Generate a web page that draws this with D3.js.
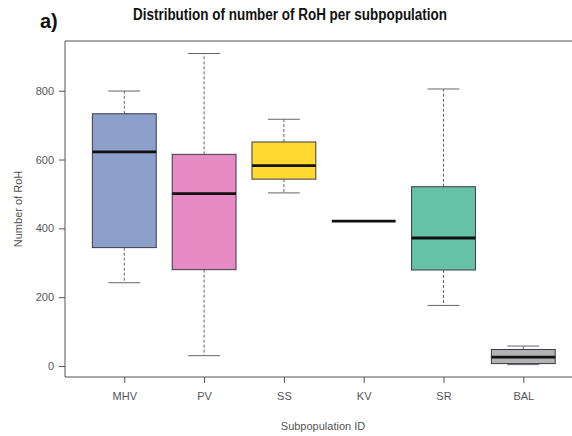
<!DOCTYPE html>
<html>
<head>
<meta charset="utf-8">
<script src="https://cdn.jsdelivr.net/npm/d3@7"></script>
<style>
  body { margin: 0; background: #fff; overflow: hidden; }
  svg { display: block; }
</style>
</head>
<body>
<div id="chart"></div>
<script>
// data
const groups = ['MHV', 'PV', 'SS', 'KV', 'SR', 'BAL'];
const mins    = [242, 30, 503, 421, 176, 4];
const q1s     = [344, 280, 543, 421, 279, 7];
const medians = [622, 501, 582, 421, 372, 26];
const q3s     = [733, 615, 651, 421, 521, 48];
const maxs    = [799, 908, 717, 421, 805, 58];
const fills   = ['#8DA0CB', '#E78AC3', '#FFD92F', '#A6D854', '#66C2A5', '#B3B3B3'];
const yTicks  = [0, 200, 400, 600, 800];

const width = 572, height = 436;
const margin = { top: 41, right: 0, bottom: 59, left: 65 };

const svg = d3.select('#chart').append('svg')
  .attr('width', width)
  .attr('height', height);

const x = d3.scalePoint()
  .domain(groups)
  .range([124.3, 523.3]);

const y = d3.scaleLinear()
  .domain([0, 800])
  .range([366, 90.7]);

const step = x.step();
const boxW = step * 0.8;
const capW = boxW / 2;

// frame: top, left and bottom only (right side is cut off in the original)
const bottomY = height - margin.bottom;
svg.append('path')
  .attr('d', `M${width},${margin.top}H${margin.left}V${bottomY}H${width}`)
  .attr('fill', 'none')
  .attr('stroke', '#555')
  .attr('stroke-width', 1);

// axes
const yAxis = svg.append('g')
  .attr('transform', `translate(${margin.left},0)`)
  .call(d3.axisLeft(y).tickValues(yTicks).tickSize(6).tickPadding(5));
yAxis.select('.domain').remove();

const xAxis = svg.append('g')
  .attr('transform', `translate(0,${bottomY})`)
  .call(d3.axisBottom(x).tickSize(6).tickPadding(9));
xAxis.select('.domain').remove();

svg.selectAll('.tick line').attr('stroke', '#555');
svg.selectAll('.tick text')
  .style('fill', '#555')
  .style('font-family', '"Liberation Sans", Arial, sans-serif')
  .style('font-size', '11px');

const data = groups.map((g, i) => ({
  g, min: mins[i], q1: q1s[i], med: medians[i], q3: q3s[i], max: maxs[i], fill: fills[i]
}));

const box = svg.append('g').selectAll('g')
  .data(data)
  .join('g')
  .attr('transform', d => `translate(${x(d.g)},0)`);

// whiskers
box.filter(d => d.max > d.q3).append('line')
  .attr('y1', d => y(d.q3)).attr('y2', d => y(d.max))
  .attr('stroke', '#666').attr('stroke-dasharray', '3,2');
box.filter(d => d.min < d.q1).append('line')
  .attr('y1', d => y(d.q1)).attr('y2', d => y(d.min))
  .attr('stroke', '#666').attr('stroke-dasharray', '3,2');

// caps
box.filter(d => d.max > d.med).append('line')
  .attr('x1', -capW / 2).attr('x2', capW / 2)
  .attr('y1', d => y(d.max)).attr('y2', d => y(d.max))
  .attr('stroke', '#666').attr('stroke-width', 1);
box.filter(d => d.min < d.med).append('line')
  .attr('x1', -capW / 2).attr('x2', capW / 2)
  .attr('y1', d => y(d.min)).attr('y2', d => y(d.min))
  .attr('stroke', '#666').attr('stroke-width', 1);

// boxes
box.filter(d => d.q3 > d.q1).append('rect')
  .attr('x', -boxW / 2)
  .attr('width', boxW)
  .attr('y', d => y(d.q3))
  .attr('height', d => y(d.q1) - y(d.q3))
  .attr('fill', d => d.fill)
  .attr('stroke', '#3a3a48')
  .attr('stroke-width', 1);

// medians
box.append('line')
  .attr('x1', -boxW / 2).attr('x2', boxW / 2)
  .attr('y1', d => y(d.med)).attr('y2', d => y(d.med))
  .attr('stroke', '#111')
  .attr('stroke-width', 2.8);

// axis titles
svg.append('text')
  .attr('x', 323)
  .attr('y', 430)
  .attr('text-anchor', 'middle')
  .style('font-family', '"Liberation Sans", Arial, sans-serif')
  .style('font-size', '11px')
  .style('fill', '#555')
  .text('Subpopulation ID');

svg.append('text')
  .attr('transform', `translate(22,209) rotate(-90)`)
  .attr('text-anchor', 'middle')
  .style('font-family', '"Liberation Sans", Arial, sans-serif')
  .style('font-size', '11px')
  .style('fill', '#555')
  .text('Number of RoH');

// title (condensed look)
svg.append('text')
  .attr('x', 290)
  .attr('y', 20)
  .attr('text-anchor', 'middle')
  .attr('textLength', 314)
  .attr('lengthAdjust', 'spacingAndGlyphs')
  .style('font-family', '"Liberation Sans", Arial, sans-serif')
  .style('font-weight', 'bold')
  .style('font-size', '16px')
  .style('fill', '#111')
  .text('Distribution of number of RoH per subpopulation');

svg.append('text')
  .attr('x', 40)
  .attr('y', 28)
  .style('font-family', '"Liberation Sans", Arial, sans-serif')
  .style('font-weight', 'bold')
  .style('font-size', '20px')
  .style('fill', '#111')
  .text('a)');
</script>
</body>
</html>
